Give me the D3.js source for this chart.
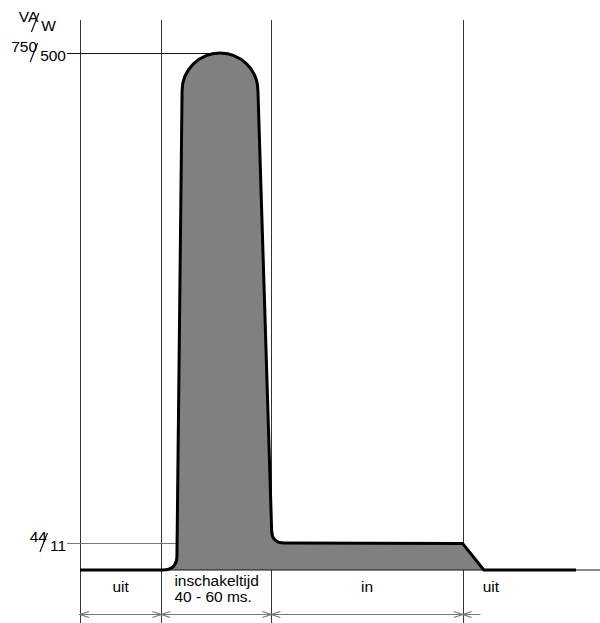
<!DOCTYPE html>
<html>
<head>
<meta charset="utf-8">
<script src="https://cdn.jsdelivr.net/npm/d3@7"></script>
<style>
  html, body { margin: 0; padding: 0; background: #fff; }
  svg { display: block; }
  text { font-family: "Liberation Sans", Arial, sans-serif; fill: #000; }
</style>
</head>
<body>
<svg id="chart" width="600" height="623"></svg>
<script>
// Switch-on power curve of a lamp (schematic), time in ms, power in VA (W below)
const phaseBounds = [0, 37, 87, 174];           // start of each phase (ms)
const phaseEnd = 182;                            // end of dimensioned range
const phaseLabels = [["uit"], ["inschakeltijd", "40 - 60 ms."], ["in"], ["uit"]];

const levelVA = [44, 750];                       // marked apparent-power levels
const levelW = [11, 500];                        // matching real-power levels
const unitTop = "VA";
const unitBottom = "W";

// Outline of the power curve: time (ms) and apparent power (VA)
const curveTime = [0, 37, 44, 46.4, 80.9, 87.3, 174, 183.6, 225.5];
const curveVA   = [0, 0,  0,  750,  750,  44,   43,  0,     0];
const timeMax = 236.4;

const fontSize = "15.5px";

const svg = d3.select("#chart");
const x = d3.scaleLinear().domain([0, timeMax]).range([80, 600]);
const y = d3.scaleLinear().domain([0, 44, 750]).range([570, 543, 53]);

const baseY = y(0);
const topY = 20;

// phase boundary lines
svg.append("g").selectAll("line").data(phaseBounds).join("line")
  .attr("x1", d => Math.round(x(d)) + 0.5).attr("x2", d => Math.round(x(d)) + 0.5)
  .attr("y1", topY).attr("y2", 623)
  .attr("stroke", "#333").attr("stroke-width", 1);

// build outline: rise corner rounded, rounded cap on top, fall corner rounded
function pt(i) { return [x(curveTime[i]), y(curveVA[i])]; }
function buildPath(closed) {
  const p = d3.path();
  const a0 = closed ? pt(1) : pt(0);
  p.moveTo(a0[0], a0[1]);
  if (!closed) { const p1 = pt(1); p.lineTo(p1[0], p1[1]); }
  const c = pt(2), rc = 14;
  p.lineTo(c[0] - rc, c[1]);
  const capL = x(curveTime[3]), capR = x(curveTime[4]);
  const r = (capR - capL) / 2;
  const shoulderY = y(curveVA[3]) + r;
  const dx = capL - c[0], dy = shoulderY - c[1];
  const len = Math.hypot(dx, dy);
  p.quadraticCurveTo(c[0], c[1], c[0] + dx / len * rc, c[1] + dy / len * rc);
  p.lineTo(capL, shoulderY);
  p.arc((capL + capR) / 2, shoulderY, r, Math.PI, 0, false);
  const f = pt(5), rf = 12;
  const ex = f[0] - capR, ey = f[1] - shoulderY, el = Math.hypot(ex, ey);
  p.lineTo(f[0] - ex / el * rf, f[1] - ey / el * rf);
  const n = pt(6);
  const nx = n[0] - f[0], ny = n[1] - f[1], nl = Math.hypot(nx, ny);
  p.quadraticCurveTo(f[0], f[1], f[0] + nx / nl * rf, f[1] + ny / nl * rf);
  p.lineTo(n[0], n[1]);
  const d7 = pt(7);
  p.lineTo(d7[0], d7[1]);
  if (closed) { p.closePath(); }
  else { const e = pt(8); p.lineTo(e[0], e[1]); }
  return p.toString();
}

svg.append("path").attr("d", buildPath(true)).attr("fill", "#808080").attr("stroke", "none");

// thin time axis
svg.append("line").attr("x1", x(0)).attr("x2", 600).attr("y1", baseY).attr("y2", baseY)
  .attr("stroke", "#111").attr("stroke-width", 1);

// level reference lines
const peakX = (x(curveTime[3]) + x(curveTime[4])) / 2;
svg.append("line").attr("x1", 67).attr("x2", peakX).attr("y1", y(750) + 0.5).attr("y2", y(750) + 0.5)
  .attr("stroke", "#111").attr("stroke-width", 1);
svg.append("line").attr("x1", 67).attr("x2", x(curveTime[2])).attr("y1", y(44) + 0.5).attr("y2", y(44) + 0.5)
  .attr("stroke", "#777").attr("stroke-width", 1);

svg.append("path").attr("d", buildPath(false)).attr("fill", "none")
  .attr("stroke", "#000").attr("stroke-width", 3).attr("stroke-linejoin", "round");

// stacked fraction labels ("750/500" style) with a slanted divider stroke
function fraction(top, bottom, right, baseline) {
  const g = svg.append("g");
  const b = g.append("text").text(bottom).attr("x", right).attr("y", baseline)
    .attr("text-anchor", "end").style("font-size", fontSize);
  const w = b.node().getComputedTextLength();
  const start = right - w;
  g.append("text").text(top).attr("x", start - 3).attr("y", baseline - 9)
    .attr("text-anchor", "end").style("font-size", fontSize);
  g.append("line")
    .attr("x1", start - 10).attr("y1", baseline + 1)
    .attr("x2", start - 2.5).attr("y2", baseline - 18)
    .attr("stroke", "#000").attr("stroke-width", 1.1);
}
fraction(unitTop, unitBottom, 56, 31);
levelVA.forEach((v, i) => fraction(String(v), String(levelW[i]), 66, Math.round(y(v)) + 8));

// phase labels
phaseLabels.forEach((lines, i) => {
  const x0 = x(phaseBounds[i]);
  const x1 = i < phaseBounds.length - 1 ? x(phaseBounds[i + 1]) : null;
  const t = svg.append("text").style("font-size", fontSize);
  if (lines.length > 1) {
    lines.forEach((s, k) => t.append("tspan").text(s).attr("x", x0 + 13).attr("y", 586 + k * 16));
  } else if (x1 !== null) {
    t.text(lines[0]).attr("x", (x0 + x1) / 2).attr("y", 592).attr("text-anchor", "middle");
  } else {
    t.text(lines[0]).attr("x", x0 + 20).attr("y", 592);
  }
});

// dimension line with open arrowheads
const dimY = 614.5;
const dim = svg.append("g").attr("stroke", "#777").attr("stroke-width", 1.2).attr("fill", "none");
dim.append("line").attr("x1", x(0)).attr("x2", x(phaseEnd)).attr("y1", dimY).attr("y2", dimY);
const al = 9, ah = 3;
phaseBounds.forEach((b, i) => {
  const bx = x(b);
  dim.append("path").attr("d", `M${bx + al},${dimY - ah}L${bx},${dimY}L${bx + al},${dimY + ah}`);
  if (i > 0) {
    dim.append("path").attr("d", `M${bx - al},${dimY - ah}L${bx},${dimY}L${bx - al},${dimY + ah}`);
  }
});
</script>
</body>
</html>
